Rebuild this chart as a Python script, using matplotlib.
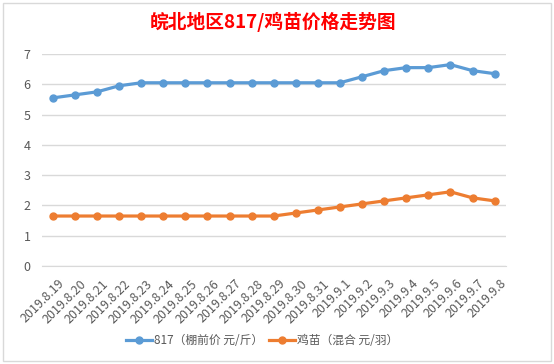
import matplotlib.pyplot as plt
from matplotlib.patches import Rectangle
from matplotlib.transforms import ScaledTranslation

plt.rcParams['font.family'] = ['Noto Sans CJK SC', 'DejaVu Sans']

dates = ['2019.8.19', '2019.8.20', '2019.8.21', '2019.8.22', '2019.8.23', '2019.8.24',
         '2019.8.25', '2019.8.26', '2019.8.27', '2019.8.28', '2019.8.29', '2019.8.30',
         '2019.8.31', '2019.9.1', '2019.9.2', '2019.9.3', '2019.9.4', '2019.9.5',
         '2019.9.6', '2019.9.7', '2019.9.8']
price_817 = [5.55, 5.65, 5.75, 5.95, 6.05, 6.05, 6.05, 6.05, 6.05, 6.05, 6.05, 6.05,
             6.05, 6.05, 6.25, 6.45, 6.55, 6.55, 6.65, 6.45, 6.35]
price_chick = [1.65, 1.65, 1.65, 1.65, 1.65, 1.65, 1.65, 1.65, 1.65, 1.65, 1.65, 1.75,
               1.85, 1.95, 2.05, 2.15, 2.25, 2.35, 2.45, 2.25, 2.15]
label_817 = '817（棚前价 元/斤）'
label_chick = '鸡苗（混合 元/羽）'
title = '皖北地区817/鸡苗价格走势图'

fig = plt.figure(figsize=(5.54, 3.64), dpi=100)
fig.patch.set_facecolor('white')
# chart area border
fig.patches.append(Rectangle((3 / 554, 3 / 364), 548 / 554, 358 / 364, transform=fig.transFigure,
                             fill=False, edgecolor='#D9D9D9', linewidth=1))

ax = fig.add_axes([41.7 / 554, 1 - 266 / 364, 464 / 554, 212 / 364])
x = list(range(len(dates)))
ax.plot(x, price_817, color='#5B9BD5', linewidth=2.3, marker='o', markersize=5, label=label_817)
ax.plot(x, price_chick, color='#ED7D31', linewidth=2.3, marker='o', markersize=5, label=label_chick)

ax.set_xlim(-0.5, len(dates) - 0.5)
ax.set_ylim(0, 7)
ax.set_yticks(range(8))
ax.grid(axis='y', color='#D9D9D9', linewidth=1)
ax.set_axisbelow(True)
for s in ['top', 'right', 'left']:
    ax.spines[s].set_visible(False)
ax.spines['bottom'].set_color('#D9D9D9')
ax.tick_params(length=0, colors='#595959', labelsize=9)
ax.tick_params(axis='y', pad=8)
ax.set_xticks(x)
ax.set_xticklabels(dates, rotation=45, ha='right', va='top', rotation_mode='anchor')
ax.tick_params(axis='x', pad=8)
shift = ScaledTranslation(5 / 100, 0, fig.dpi_scale_trans)
for lbl in ax.get_xticklabels():
    lbl.set_transform(lbl.get_transform() + shift)

fig.text(0.492, 1 - 22 / 364, title, color='#FF0000', fontsize=13.5, fontweight='bold',
         ha='center', va='center')

fig.legend(loc='center', bbox_to_anchor=(0.473, 1 - 341 / 364), ncol=2, frameon=False,
           fontsize=8.5, labelcolor='#595959', handlelength=2.2, columnspacing=0.5,
           handletextpad=0.2)

fig.savefig('out.png', dpi=100)
